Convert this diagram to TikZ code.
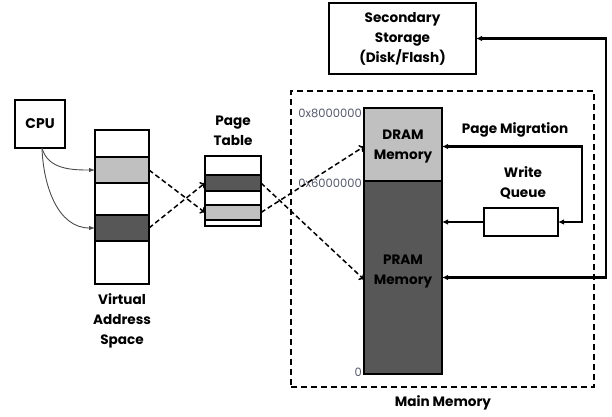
\documentclass[tikz,border=0pt]{standalone}
\usepackage{fontspec}
\setmainfont{Poppins}
\usetikzlibrary{arrows.meta}
\definecolor{lightpage}{HTML}{C0C0C0}
\definecolor{darkpage}{HTML}{575757}
\definecolor{addr}{HTML}{55586A}
\begin{document}
\begin{tikzpicture}[x=1pt,y=-1pt,
  box/.style={draw, line width=1.6pt, inner sep=0pt, outer sep=0pt},
  seg/.style={box, minimum width=#1},
  lbl/.style={font=\bfseries\fontsize{13.6}{20}\selectfont, align=center, inner sep=0pt},
  addrlbl/.style={font=\fontsize{11.5}{13}\selectfont, text=addr, inner sep=0pt, anchor=east},
  cpuarrow/.style={draw=black!70, line width=0.9pt, -{Latex[length=6pt,width=4.5pt]}},
  maparrow/.style={line width=1.5pt, dash pattern=on 5pt off 3pt, -{To[length=4.5pt,width=8pt]}},
  flow/.style={line width=2.2pt, {Latex[length=6pt,width=5.5pt]}-{Latex[length=6pt,width=5.5pt]}},
  flowone/.style={line width=2.2pt, -{Latex[length=6pt,width=5.5pt]}}]
\useasboundingbox (0,0) rectangle (612,416);

% CPU
\node[box, minimum width=50pt, minimum height=48pt, font=\bfseries\fontsize{14}{16}\selectfont] (cpu) at (40,124) {CPU};

% virtual address space
\node[seg=54pt, minimum height=27pt] (v1) at (122,143.5) {};
\node[seg=54pt, minimum height=26pt, fill=lightpage] (v2) at (122,170) {};
\node[seg=54pt, minimum height=32pt] (v3) at (122,199) {};
\node[seg=54pt, minimum height=26pt, fill=darkpage] (v4) at (122,228) {};
\node[seg=54pt, minimum height=43pt] (v5) at (122,262.5) {};
\node[lbl] (vlabel) at (122,321) {Virtual\\Address\\Space};

% page table
\node[seg=56pt, minimum height=19pt] (p1) at (233,165.5) {};
\node[seg=56pt, minimum height=16pt, fill=darkpage] (p2) at (233,183) {};
\node[seg=56pt, minimum height=14pt] (p3) at (233,198) {};
\node[seg=56pt, minimum height=15pt, fill=lightpage] (p4) at (233,212.5) {};
\node[seg=56pt, minimum height=6pt] (p5) at (233,223) {};
\node[lbl] (plabel) at (233,130.5) {Page\\Table};

% main memory
\node[draw, line width=1.6pt, dash pattern=on 6pt off 4pt, minimum width=303pt, minimum height=296pt, inner sep=0pt] (main) at (442.5,239) {};
\node[lbl] (mlabel) at (443,403) {Main Memory};
\node[seg=78pt, minimum height=73pt, fill=lightpage] (dram) at (403,144.5) {};
\node[lbl] (dramtext) at (403,147) {DRAM\\Memory};
\node[seg=78pt, minimum height=193pt, fill=darkpage] (pram) at (403,277.5) {};
\node[lbl] (pramtext) at (403,272) {PRAM\\Memory};
\node[addrlbl] (a8) at (362,113) {0x8000000};
\node[addrlbl] (a6) at (362,183) {0x6000000};
\node[addrlbl] (a0) at (362,372) {0};

% secondary storage and write queue
\node[box, minimum width=147pt, minimum height=71pt, lbl] (store) at (402.5,38.5) {Secondary\\Storage\\(Disk/Flash)};
\node[box, minimum width=74pt, minimum height=28pt] (queue) at (521,222) {};
\node[lbl] (qlabel) at (523,182.5) {Write\\Queue};
\node[lbl] (miglabel) at (515,130) {Page Migration};
\coordinate (rail) at (606,150);
\coordinate (migrail) at (582,180);

% CPU accesses
\draw[cpuarrow] (cpu.south) ++(2,0) to[out=-75,in=180] (v2.west);
\draw[cpuarrow] (cpu.south) ++(2,0) to[out=-88,in=180] (v4.west);

% address translation
\draw[maparrow] (v2.east) -- (p4.west);
\draw[maparrow] (v4.east) -- (p2.west);
\draw[maparrow] (p2.east) -- ([yshift=-2pt]pram.west);
\draw[maparrow] (p4.east) -- ([yshift=-2pt]dram.west);

% data movement
\draw[flow] (store.east) -| (rail) |- (pram.east);
\draw[flow] ([yshift=-2pt]dram.east) -| (migrail) |- (queue.east);
\draw[flowone] (queue.west) -- (queue.west -| pram.east);
\end{tikzpicture}
\end{document}
